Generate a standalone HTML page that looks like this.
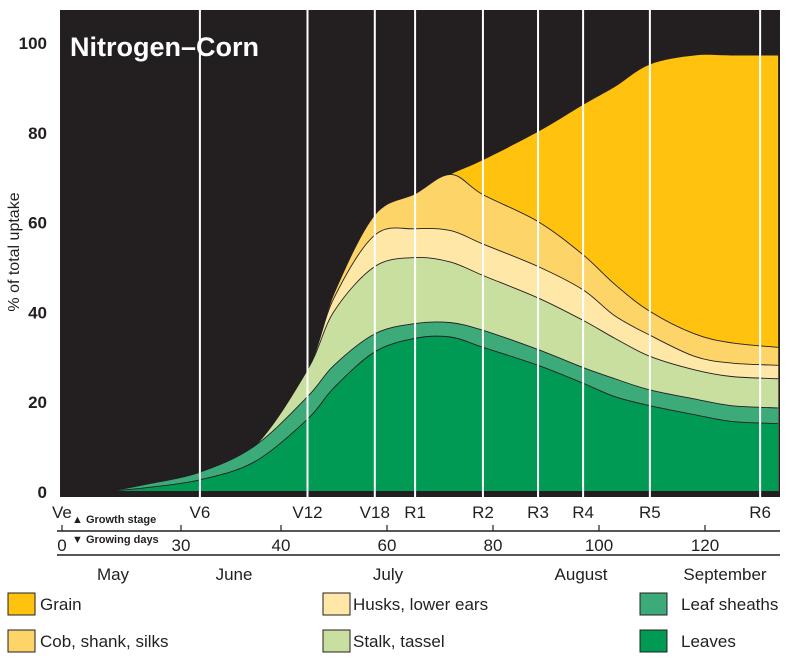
<!DOCTYPE html>
<html><head><meta charset="utf-8"><style>
body{margin:0;background:#fff;width:792px;height:660px;overflow:hidden;font-family:"Liberation Sans",Arial,sans-serif}
svg text{font-family:"Liberation Sans",Arial,sans-serif}
</style></head><body>
<svg id="c" width="792" height="660" viewBox="0 0 792 660"></svg>
<script>
const days=[8,15,24.7,35,45,50,57.7,65.3,72,78.1,88.5,97,103,109.6,118,125,133.8];
const leaves=[0,0.8,2.5,6.5,16,23,31,34,34.3,32,28,24,21,19,17,15.5,15];
const sheaths=[0,0.8,1.7,3.5,5,5,4,3.3,3.2,3.8,3.5,3.5,4,3.5,3.5,3.5,3.5];
const stalk=[0,0,0,0,6,12,15,14.7,13.5,12.2,11.5,10.5,9,7.5,6.5,6.5,6.5];
const husks=[0,0,0,0,0,3,7,6.4,7,7,7,6.8,5,4.7,3,3,3];
const cob=[0,0,0,0,0,1,4.5,7.8,12.5,11,10,7.8,7,5.3,5,4.5,4];
const grain=[0,0,0,0,0,0,0,0,0,7.7,20,33.4,44,55,62,64,65];
const yTicks=[0,20,40,60,80,100];
const stageNames=["V6","V12","V18","R1","R2","R3","R4","R5","R6"];
const stageDays=[24.7,45,57.7,65.3,78.1,88.5,97,109.6,130.4];
const dayTicks=[0,20,40,60,80,100,120];
const dayLabels=["0","30","40","60","80","100","120"];

const svg=document.getElementById('c');
const NS='http://www.w3.org/2000/svg';
const X=d=>69+d*5.3, Y=v=>491-v*4.49;
function mk(t,a,p){const e=document.createElementNS(NS,t);for(const k in a)e.setAttribute(k,a[k]);(p||svg).appendChild(e);return e;}
function txt(s,x,y,a){const e=mk('text',Object.assign({x:x,y:y},a));e.textContent=s;return e;}
function curve(pts){let d='M'+pts[0][0]+','+pts[0][1];for(let i=0;i<pts.length-1;i++){const p0=pts[Math.max(0,i-1)],p1=pts[i],p2=pts[i+1],p3=pts[Math.min(pts.length-1,i+2)];const c1=[p1[0]+(p2[0]-p0[0])/6,p1[1]+(p2[1]-p0[1])/6],c2=[p2[0]-(p3[0]-p1[0])/6,p2[1]-(p3[1]-p1[1])/6];d+=' C'+c1[0]+','+c1[1]+' '+c2[0]+','+c2[1]+' '+p2[0]+','+p2[1];}return d;}

let bg=mk('rect',{x:60,y:10,width:720,height:487,fill:'#231f20'});



const layers=[["leaves",leaves,"#009a55"],["leaf-sheaths",sheaths,"#3daa7a"],["stalk-tassel",stalk,"#c8dfa0"],["husks",husks,"#ffe7a8"],["cob-shank-silks",cob,"#fdd468"],["grain",grain,"#ffc20e"]];
const cums=[];let run=days.map(()=>0);
layers.forEach(l=>{run=run.map((v,i)=>v+l[1][i]);cums.push(run.slice());});
for(let k=layers.length-1;k>=0;k--){
  const pts=days.map((d,i)=>[X(d),Y(cums[k][i])]);
  const c=curve(pts);
  const a=mk('path',{d:c+' L'+X(days[days.length-1])+','+Y(0)+' L'+X(days[0])+','+Y(0)+'Z',fill:layers[k][2]});
  
  
  if(k<layers.length-1){const ln=mk('path',{d:c,fill:'none',stroke:'#231f20','stroke-width':0.9});
  
  }
}
stageDays.forEach((d,i)=>{
  const l=mk('line',{x1:X(d),x2:X(d),y1:10,y2:497,stroke:'#fff','stroke-width':2});
  
  
  const t=txt(stageNames[i],X(d),518,{'font-size':17,'text-anchor':'middle',fill:'#231f20'});
  
  
});
yTicks.forEach(v=>{
  const t=txt(String(v),47,Y(v)+7,{'font-size':17,'font-weight':'bold','text-anchor':'end',fill:'#231f20'});
  
  
});
dayTicks.forEach((d,i)=>{
  const x=X(d)-(d===0?7:0)+(d===20?6:0);
  const tk=mk('line',{x1:x,x2:x,y1:525,y2:531,stroke:'#231f20','stroke-width':1.2});
  
  
  const t=txt(dayLabels[i],d===0?62:x,551,{'font-size':17,'text-anchor':'middle',fill:'#231f20'});
  
  
});
</script>
<svg width="792" height="660" style="position:absolute;left:0;top:0">
<text x="70" y="56" font-size="27" font-weight="bold" fill="#fff">Nitrogen–Corn</text>
<text transform="translate(19,252) rotate(-90)" font-size="16" text-anchor="middle" fill="#231f20">% of total uptake</text>
<text x="52" y="518" font-size="17" fill="#231f20">Ve</text>
<text x="72" y="523" font-size="11" font-weight="bold" fill="#231f20">▲ Growth stage</text>
<text x="72" y="543" font-size="11" font-weight="bold" fill="#231f20">▼ Growing days</text>
<line x1="57" y1="531" x2="780" y2="531" stroke="#231f20" stroke-width="1.5"/>
<line x1="57" y1="555" x2="780" y2="555" stroke="#231f20" stroke-width="1.5"/>
<g font-size="17" fill="#231f20" text-anchor="middle">
<text x="113" y="580">May</text>
<text x="234" y="580">June</text>
<text x="388" y="580">July</text>
<text x="581" y="580">August</text>
<text x="725" y="580">September</text>
</g>
<g font-size="17" fill="#231f20" stroke="#231f20" stroke-width="1">
<g><rect x="8" y="593" width="27" height="22" fill="#ffc20e"/><text x="40" y="610" stroke="none">Grain</text></g>
<g><rect x="8" y="630" width="27" height="22" fill="#fdd468"/><text x="40" y="647" stroke="none">Cob, shank, silks</text></g>
<g><rect x="323" y="593" width="27" height="22" fill="#ffe7a8"/><text x="353" y="610" stroke="none">Husks, lower ears</text></g>
<g><rect x="323" y="630" width="27" height="22" fill="#c8dfa0"/><text x="353" y="647" stroke="none">Stalk, tassel</text></g>
<g><rect x="640" y="593" width="27" height="22" fill="#3daa7a"/><text x="681" y="610" stroke="none">Leaf sheaths</text></g>
<g><rect x="640" y="630" width="27" height="22" fill="#009a55"/><text x="681" y="647" stroke="none">Leaves</text></g>
</g>
</svg>
</body></html>
